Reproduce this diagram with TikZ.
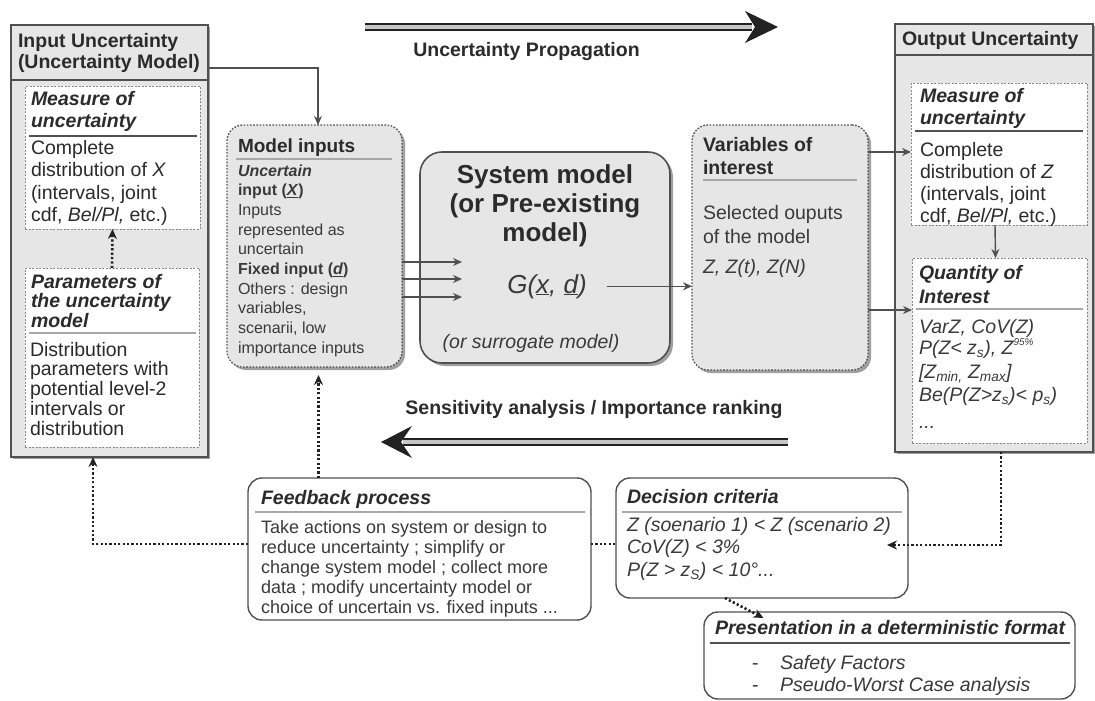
\documentclass[tikz,border=0pt]{standalone}
\usepackage{fontspec}
\setmainfont{Liberation Sans}
\usetikzlibrary{arrows.meta,shadows}
\definecolor{txt}{HTML}{2B2B2B}
\definecolor{txtb}{HTML}{3A3A3A}
\definecolor{edge}{HTML}{505050}
\definecolor{headc}{HTML}{222222}
\definecolor{fillg}{HTML}{E6E6E6}
\definecolor{dashc}{HTML}{8A8A8A}
\definecolor{shad}{HTML}{A0A0A0}
\definecolor{sepc}{HTML}{A8A8A8}
\newcommand\sr{\rule{0pt}{0.8em}}
\newcommand\fz[2]{\fontsize{#1}{#2}\selectfont}
\newcommand\smallsup[1]{\raisebox{0.42em}{\fz{10}{10}#1}}
\begin{document}
\begin{tikzpicture}[x=1pt,y=-1pt,
  t/.style={inner sep=0pt, outer sep=0pt, anchor=north west, align=left, text=txt},
  tb/.style={t, anchor=base west},
  bx/.style={inner sep=0pt, outer sep=0pt, anchor=north west},
  outerbox/.style={bx, draw=edge, line width=1.6pt, fill=fillg, drop shadow={shadow xshift=2pt,shadow yshift=-2pt,fill=shad,opacity=1}},
  innerbox/.style={bx, draw=dashc, line width=1pt, dash pattern=on 2pt off 1.5pt, fill=white},
  gbox/.style={bx, rounded corners=16pt, draw=edge, line width=1.3pt, dash pattern=on 1.6pt off 1.6pt, fill=fillg, drop shadow={shadow xshift=3pt,shadow yshift=-3pt,fill=shad,opacity=1}},
  sbox/.style={bx, rounded corners=22pt, draw=edge, line width=1.6pt, fill=fillg, drop shadow={shadow xshift=3pt,shadow yshift=-3pt,fill=shad,opacity=1}},
  wbox/.style={bx, rounded corners=14pt, draw=edge, line width=1.4pt, fill=white},
  thicksep/.style={draw=edge, line width=2pt},
  thinsep/.style={draw=sepc, line width=1.2pt},
  arr/.style={draw=edge, line width=1.4pt, -{Stealth[length=9pt,width=8pt]}},
  darr/.style={draw=headc, line width=2.6pt, dash pattern=on 2.2pt off 2.2pt, -{Stealth[length=10pt,width=9pt]}},
  dline/.style={draw=headc, line width=2.6pt, dash pattern=on 2.2pt off 2.2pt},
  bigline/.style={draw=headc, line width=2.2pt, double=gray!45, double distance=3.6pt},
  bfi/.style={font=\fz{19.5}{22}\bfseries\itshape},
]
\useasboundingbox (0,0) rectangle (1095,701);

% ---- big arrows ----
\coordinate (up1) at (365,27);
\coordinate (up2) at (778,27);
\draw[bigline] (up1) -- ([xshift=-26pt]up2);
\fill[headc] (up2) -- ++(-33,-16) -- ++(10,16) -- ++(-10,16) -- cycle;
\node[text=txt, font=\fz{19.5}{22}\bfseries] (uplab) at (526.5,52) {Uncertainty Propagation};

\coordinate (sa1) at (788,442);
\coordinate (sa2) at (381,442);
\draw[bigline] (sa1) -- ([xshift=22pt]sa2);
\fill[headc] (sa2) -- ++(31,-16) -- ++(-11,16) -- ++(11,16) -- cycle;
\node[text=txt, font=\fz{19.5}{22}\bfseries] (salab) at (594,409) {Sensitivity analysis / Importance ranking};

% ---- left box ----
\node[outerbox, minimum width=197pt, minimum height=432pt] (lbox) at (11,25) {};
\node[bx, minimum width=197pt, minimum height=55pt] (lhead) at (11,25) {};
\draw[thicksep] (lhead.south west) -- (lhead.south east);
\node[t, font=\fz{19.5}{21}\bfseries] (lht) at (18,32.4) {\sr Input Uncertainty\\(Uncertainty Model)};
\node[innerbox, minimum width=175pt, minimum height=143pt] (lmeas) at (25,86) {};
\node[t, bfi] (lmt) at (31,89.4) {\sr Measure of\\uncertainty};
\draw[thicksep] ([xshift=4pt]lmeas.west |- 0,136) -- ([xshift=-3pt]lmeas.east |- 0,136);
\node[t, font=\fz{19.5}{22.6}] (lmb) at (31,138.4) {\sr Complete\\distribution of \textit{X}\\(intervals, joint\\cdf, \textit{Bel/Pl,} etc.)};
\node[innerbox, minimum width=174pt, minimum height=179pt] (lpar) at (25,268) {};
\node[t, font=\fz{19.5}{19.8}\bfseries\itshape] (lpt) at (31,272.4) {\sr Parameters of\\the uncertainty\\model};
\draw[thinsep] ([xshift=4pt]lpar.west |- 0,333) -- ([xshift=-3pt]lpar.east |- 0,333);
\node[t, font=\fz{19.5}{19.8}] (lpb) at (30,340.4) {\sr Distribution\\parameters with\\potential level-2\\intervals or\\distribution};
\draw[darr] (lpar.north) -- (lmeas.south);

% ---- model inputs ----
\node[gbox, minimum width=175pt, minimum height=242pt] (minputs) at (227,125) {};
\node[t, font=\fz{19}{22}\bfseries] (mit) at (238,137.7) {\sr Model inputs};
\draw[thinsep] ([xshift=9pt]minputs.west |- 0,159) -- ([xshift=-10pt]minputs.east |- 0,159);
\node[t, font=\fz{16}{19.7}, text=txtb] (mib) at (238,163.2) {\sr\textbf{\textit{Uncertain}}\\\textbf{input (\underline{\textit{X}})}\\Inputs\\represented as\\uncertain\\\textbf{Fixed input (\underline{\textit{d}})}\\Others : design\\variables,\\scenarii, low\\importance inputs};

% ---- system model ----
\node[sbox, minimum width=250pt, minimum height=211pt] (sysm) at (420,152) {};
\node[t, anchor=north, align=center, font=\fz{26}{29}\bfseries] (syst) at (545,162.3) {\sr System model\\(or Pre-existing\\model)};
\node[t, anchor=base, font=\fz{26}{29}\itshape, text=txtb] (gx) at (547,293) {G(\underline{x}, \underline{d})};
\node[t, anchor=base, font=\fz{19.5}{22}\itshape, text=txtb] (srg) at (531,348) {(or surrogate model)};

% ---- variables of interest ----
\node[gbox, minimum width=176pt, minimum height=245pt] (vars) at (692,125) {};
\node[t, font=\fz{19.5}{23}\bfseries] (vt) at (703,135.4) {\sr Variables of\\interest};
\draw[thinsep] ([xshift=11pt]vars.west |- 0,180) -- ([xshift=-11pt]vars.east |- 0,180);
\node[t, font=\fz{19.5}{24}, text=txtb] (vb) at (703,203.4) {\sr Selected ouputs\\of the model};
\node[t, font=\fz{19.5}{24}\itshape, text=txtb] (vz) at (703,257.4) {\sr Z, Z(t), Z(N)};

% ---- output box ----
\node[outerbox, minimum width=198pt, minimum height=428pt] (obox) at (895,24) {};
\node[bx, minimum width=198pt, minimum height=31pt] (ohead) at (895,24) {};
\draw[thicksep] (ohead.south west) -- (ohead.south east);
\node[t, font=\fz{19.5}{21}\bfseries] (oht) at (902,30.4) {\sr Output Uncertainty};
\node[innerbox, minimum width=176pt, minimum height=142pt] (omeas) at (911,83) {};
\node[t, font=\fz{19.5}{21}\bfseries\itshape] (omt) at (920,87.4) {\sr Measure of\\uncertainty};
\draw[thicksep] ([xshift=4pt]omeas.west |- 0,131) -- ([xshift=-4pt]omeas.east |- 0,131);
\node[t, font=\fz{19.5}{22.3}] (omb) at (920,140.4) {\sr Complete\\distribution of \textit{Z}\\(intervals, joint\\cdf, \textit{Bel/Pl,} etc.)};
\node[innerbox, minimum width=175pt, minimum height=185pt] (oqty) at (912,258) {};
\node[t, font=\fz{19.5}{24}\bfseries\itshape] (oqt) at (919,263.4) {\sr Quantity of\\Interest};
\draw[thinsep] ([xshift=4pt]oqty.west |- 0,309) -- ([xshift=-4pt]oqty.east |- 0,309);
\node[tb, font=\fz{19.5}{22}\itshape, text=txtb] (q1) at (919,333) {VarZ, CoV(Z)};
\node[tb, font=\fz{19.5}{22}\itshape, text=txtb] (q2) at (919,354) {P(Z< z\textsubscript{s}), Z\smallsup{95\%}};
\node[tb, font=\fz{19.5}{22}\itshape, text=txtb] (q3) at (919,378) {[Z\textsubscript{min,} Z\textsubscript{max}]};
\node[tb, font=\fz{19.5}{22}\itshape, text=txtb] (q4) at (919,401) {Be(P(Z>z\textsubscript{s})< p\textsubscript{s})};
\node[tb, font=\fz{19.5}{22}\itshape, text=txtb] (q5) at (919,428) {...};

% ---- feedback ----
\node[wbox, minimum width=343pt, minimum height=142pt] (fb) at (248,478) {};
\node[t, bfi] (fbt) at (261,488.4) {\sr Feedback process};
\draw[thinsep] ([xshift=7pt]fb.west |- 0,512) -- ([xshift=-6pt]fb.east |- 0,512);
\node[t, font=\fz{18}{20}, text=txtb] (fbb) at (261,519.2) {\sr Take actions on system or design to\\reduce uncertainty ; simplify or\\change system model ; collect more\\data ; modify uncertainty model or\\choice of uncertain vs. fixed inputs ...};

% ---- decision ----
\node[wbox, minimum width=292pt, minimum height=120pt] (dec) at (616,478) {};
\node[t, bfi] (dect) at (627,487.4) {\sr Decision criteria};
\draw[thinsep] ([xshift=6pt]dec.west |- 0,512) -- ([xshift=-6pt]dec.east |- 0,512);
\node[t, font=\fz{19.5}{22.5}\itshape, text=txtb] (decb) at (627,515.4) {\sr Z (soenario 1) < Z (scenario 2)\\CoV(Z) < 3\%\\P(Z > z\textsubscript{S}) < 10°...};

% ---- presentation ----
\node[wbox, minimum width=371pt, minimum height=87pt] (pres) at (704,612) {};
\node[t, bfi] (prt) at (715,618.4) {\sr Presentation in a deterministic format};
\draw[thicksep] ([xshift=6pt]pres.west |- 0,643) -- ([xshift=-5pt]pres.east |- 0,643);
\node[t, font=\fz{19.5}{22}, text=txtb] (prd) at (752,653.4) {\sr -\\-};
\node[t, font=\fz{19.5}{22}\itshape, text=txtb] (pri) at (780,653.4) {\sr Safety Factors\\Pseudo-Worst Case analysis};

% ---- connectors ----
\draw[arr] ([yshift=12pt]lhead.south east) -| ([xshift=3.5pt]minputs.north);
\foreach \yy in {262,279,297} {
  \draw[arr] (minputs.east |- 0,\yy) -- ([xshift=42pt]sysm.west |- 0,\yy);
}
\draw[arr] ([xshift=20pt]gx.east) -- (vars.west |- gx.east);
\draw[arr] (vars.east |- 0,152) -- (omeas.west |- 0,152);
\draw[arr] (vars.east |- 0,310) -- (oqty.west |- 0,310);
\draw[arr] ([xshift=-4pt]omeas.south) -- ([xshift=-4pt]oqty.north);
\draw[darr] ([xshift=4pt]minputs.south |- fb.north) -- ([xshift=4pt,yshift=-8pt]minputs.south);
\draw[darr] ([yshift=5pt]fb.west) -| ([xshift=-16.5pt]lbox.south);
\draw[dline] ([yshift=5pt]fb.east) -- (dec.west |- 0,544);
\draw[darr] ([xshift=7pt]obox.south) |- ([xshift=-21pt]dec.east |- 0,545);
\draw[darr] ([xshift=-37pt]dec.south) -- ([xshift=-126pt,yshift=-6pt]pres.north);
\end{tikzpicture}
\end{document}
